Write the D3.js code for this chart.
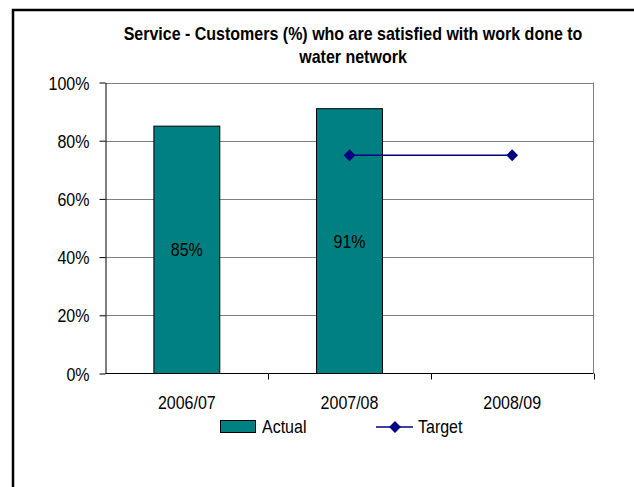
<!DOCTYPE html>
<html>
<head>
<meta charset="utf-8">
<script src="https://cdn.jsdelivr.net/npm/d3@7"></script>
<style>
  html, body { margin: 0; padding: 0; background: #fff; }
  svg { display: block; font-family: "Liberation Sans", Arial, sans-serif; }
</style>
</head>
<body>
<svg id="chart" width="634" height="487"></svg>
<script>
// Chart data
const categories = ["2006/07", "2007/08", "2008/09"];
const actualValues = [85, 91, null];
const targetValues = [null, 75, 75];
const yTicks = [0, 20, 40, 60, 80, 100];
const titleLines = ["Service - Customers (%) who are satisfied with work done to", "water network"];

const FONT_SIZE = 18;
const SQUEEZE = 0.89; // condensed lettering

// Places a text element at (px, py) with condensed glyphs
function placeText(sel, px, py) {
  sel.attr("x", 0).attr("y", 0)
    .attr("transform", (d, i, n) => {
      const X = typeof px === "function" ? px(d, i, n) : px;
      const Y = typeof py === "function" ? py(d, i, n) : py;
      return `translate(${X},${Y}) scale(${SQUEEZE},1)`;
    });
  return sel;
}

const svg = d3.select("#chart");

// Outer chart frame (top and left edges)
svg.append("path")
  .attr("d", "M13,487 V10 H634")
  .attr("fill", "none")
  .attr("stroke", "#000")
  .attr("stroke-width", 2.5);

const plot = { left: 105.5, right: 593.5, top: 82.5, bottom: 373.5 };

const x = d3.scaleBand().domain(categories).range([plot.left, plot.right]);
const y = d3.scaleLinear().domain([0, 100]).range([plot.bottom, plot.top]);

// Title
svg.append("g")
  .selectAll("text")
  .data(titleLines)
  .join("text")
  .attr("text-anchor", "middle")
  .attr("font-weight", "bold")
  .attr("font-size", FONT_SIZE)
  .attr("fill", "#000")
  .call(placeText, 353, (d, i) => 40 + i * 23)
  .text(d => d);

// Gridlines
svg.append("g")
  .selectAll("line")
  .data(yTicks.filter(t => t > 0))
  .join("line")
  .attr("x1", plot.left).attr("x2", plot.right)
  .attr("y1", d => Math.round(y(d)) + 0.5).attr("y2", d => Math.round(y(d)) + 0.5)
  .attr("stroke", "#808080")
  .attr("stroke-width", 1);

// Plot area right border
svg.append("line")
  .attr("x1", plot.right).attr("x2", plot.right)
  .attr("y1", plot.top).attr("y2", plot.bottom)
  .attr("stroke", "#808080");

// Bars
const barData = categories.map((c, i) => ({ c, v: actualValues[i] })).filter(d => d.v != null);
const barWidth = x.bandwidth() * 0.405;
svg.append("g")
  .selectAll("rect")
  .data(barData)
  .join("rect")
  .attr("x", d => x(d.c) + x.bandwidth() / 2 - barWidth / 2)
  .attr("y", d => y(d.v))
  .attr("width", barWidth)
  .attr("height", d => y(0) - y(d.v))
  .attr("fill", "#008080")
  .attr("stroke", "#000")
  .attr("stroke-width", 1);

// Bar value labels (centered in bar)
svg.append("g")
  .selectAll("text")
  .data(barData)
  .join("text")
  .attr("text-anchor", "middle")
  .attr("font-size", FONT_SIZE)
  .attr("fill", "#000")
  .call(placeText, d => x(d.c) + x.bandwidth() / 2, d => y(d.v / 2) + 6.5)
  .text(d => d.v + "%");

// Y axis
const yAxis = svg.append("g")
  .attr("transform", `translate(${plot.left},0)`)
  .call(d3.axisLeft(y).tickValues(yTicks).tickSize(6).tickSizeOuter(0).tickFormat(d => d + "%"));
yAxis.select(".domain").attr("stroke", "#000");
yAxis.selectAll(".tick line").attr("stroke", "#000");
yAxis.selectAll(".tick text")
  .attr("font-size", FONT_SIZE)
  .attr("font-family", "Liberation Sans, Arial, sans-serif")
  .attr("fill", "#000")
  .attr("dy", null)
  .call(placeText, -16, 6.5);

// X axis: ticks at category boundaries
svg.append("line")
  .attr("x1", plot.left).attr("x2", plot.right)
  .attr("y1", plot.bottom).attr("y2", plot.bottom)
  .attr("stroke", "#000");
const boundaries = categories.map(c => x(c) + x.bandwidth());
svg.append("g")
  .selectAll("line")
  .data(boundaries)
  .join("line")
  .attr("x1", d => Math.round(d) + 0.5).attr("x2", d => Math.round(d) + 0.5)
  .attr("y1", plot.bottom).attr("y2", plot.bottom + 6)
  .attr("stroke", "#000");
svg.append("g")
  .selectAll("text")
  .data(categories)
  .join("text")
  .attr("text-anchor", "middle")
  .attr("font-size", FONT_SIZE)
  .attr("fill", "#000")
  .call(placeText, d => x(d) + x.bandwidth() / 2, 409)
  .text(d => d);

// Target line with diamond markers (squares turned 45°)
const targetPts = categories.map((c, i) => ({ c, v: targetValues[i] })).filter(d => d.v != null);
const line = d3.line()
  .x(d => x(d.c) + x.bandwidth() / 2)
  .y(d => y(d.v));
svg.append("path")
  .datum(targetPts)
  .attr("d", line)
  .attr("fill", "none")
  .attr("stroke", "#000080")
  .attr("stroke-width", 1.5);
const diamond = d3.symbol().type(d3.symbolSquare).size(70);
svg.append("g")
  .selectAll("path")
  .data(targetPts)
  .join("path")
  .attr("transform", d => `translate(${x(d.c) + x.bandwidth() / 2},${y(d.v)}) rotate(45)`)
  .attr("d", diamond)
  .attr("fill", "#000080");

// Legend
const legend = svg.append("g");
legend.append("rect")
  .attr("x", 220.5).attr("y", 420.5).attr("width", 35).attr("height", 12)
  .attr("fill", "#008080").attr("stroke", "#000").attr("stroke-width", 1);
legend.append("text")
  .attr("font-size", FONT_SIZE).attr("fill", "#000")
  .call(placeText, 262, 433)
  .text("Actual");
legend.append("line")
  .attr("x1", 376).attr("x2", 413).attr("y1", 427).attr("y2", 427)
  .attr("stroke", "#000080").attr("stroke-width", 1.5);
legend.append("path")
  .attr("transform", "translate(395,427) rotate(45)")
  .attr("d", diamond)
  .attr("fill", "#000080");
legend.append("text")
  .attr("font-size", FONT_SIZE).attr("fill", "#000")
  .call(placeText, 418, 433)
  .text("Target");
</script>
</body>
</html>
